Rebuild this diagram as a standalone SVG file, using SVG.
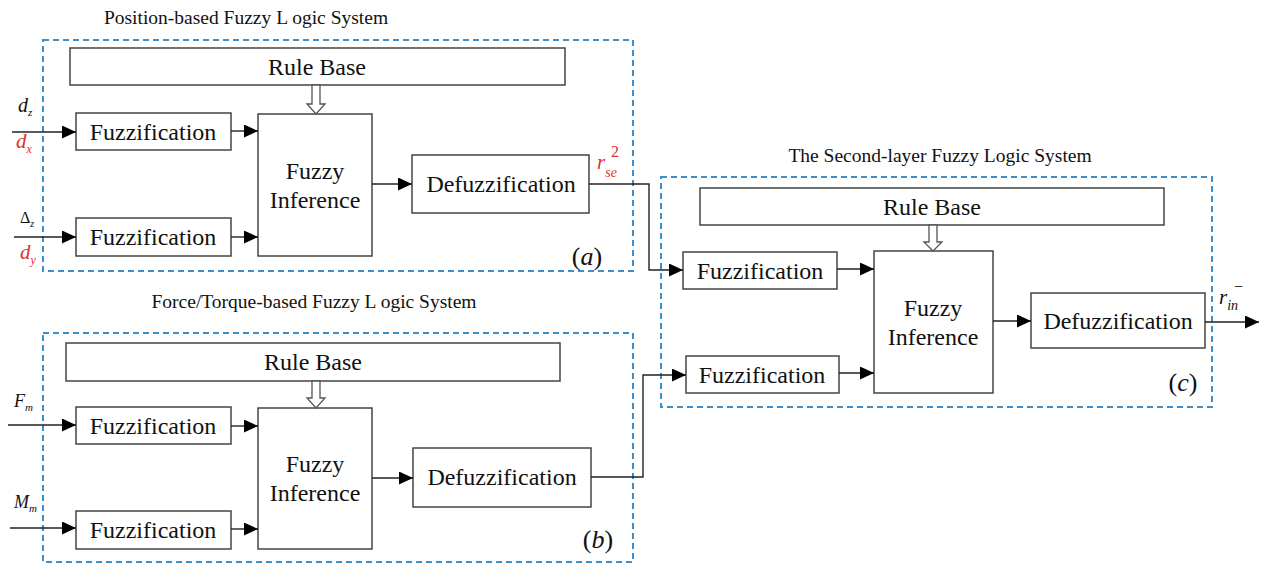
<svg xmlns="http://www.w3.org/2000/svg" width="1265" height="567" viewBox="0 0 1265 567">
<style>
text{font-family:"Liberation Serif","Times New Roman","DejaVu Serif","Noto Serif",serif}
.panel{fill:none;stroke:#3d8ec9;stroke-width:2;stroke-dasharray:6 4}
.box{fill:#fff;stroke:#444;stroke-width:1.5}
.bt{font-size:24px;fill:#111;text-anchor:middle}
.title{font-size:19.5px;fill:#111;text-anchor:middle}
.lbl{font-size:26px;fill:#111;text-anchor:middle}
.m{font-style:italic;fill:#111}
.up{font-style:normal;fill:#111}
.red{fill:#e03030}
.ln{fill:none;stroke:#222;stroke-width:1.4}
.hol{fill:#fff;stroke:#555;stroke-width:1.3}
</style>
<defs>
<marker id="ah" markerWidth="15" markerHeight="13" refX="14" refY="6.5" orient="auto" markerUnits="userSpaceOnUse">
<path d="M0,0 L14,6.5 L0,13 Z" fill="#000"/>
</marker>
</defs>

<g id="panel-a">
<rect class="panel" x="43" y="40" width="590" height="231"/>
<text class="title" x="246" y="24">Position-based Fuzzy L ogic System</text>
<text class="lbl" x="587" y="265">(<tspan font-style="italic">a</tspan>)</text>
</g>
<g id="panel-b">
<rect class="panel" x="43" y="333" width="590" height="229"/>
<text class="title" x="314" y="308">Force/Torque-based Fuzzy L ogic System</text>
<text class="lbl" x="598" y="548">(<tspan font-style="italic">b</tspan>)</text>
</g>
<g id="panel-c">
<rect class="panel" x="661" y="177" width="551" height="230"/>
<text class="title" x="940" y="162">The Second-layer Fuzzy Logic System</text>
<text class="lbl" x="1183" y="391">(<tspan font-style="italic">c</tspan>)</text>
</g>

<g id="a-rulebase"><rect class="box" x="70" y="48" width="495" height="37"/><text class="bt" x="317" y="75">Rule Base</text></g>
<g id="a-fuzz1"><rect class="box" x="76" y="113" width="155" height="37"/><text class="bt" x="153" y="140">Fuzzification</text></g>
<g id="a-fuzz2"><rect class="box" x="76" y="218" width="155" height="38"/><text class="bt" x="153" y="245">Fuzzification</text></g>
<g id="a-inference"><rect class="box" x="258" y="114" width="114" height="142"/><text class="bt" x="315" y="179">Fuzzy</text><text class="bt" x="315" y="208">Inference</text></g>
<g id="a-defuzz"><rect class="box" x="412" y="155" width="177" height="58"/><text class="bt" x="501" y="192">Defuzzification</text></g>

<g id="b-rulebase"><rect class="box" x="66" y="343" width="494" height="38"/><text class="bt" x="313" y="370">Rule Base</text></g>
<g id="b-fuzz1"><rect class="box" x="76" y="407" width="155" height="37"/><text class="bt" x="153" y="434">Fuzzification</text></g>
<g id="b-fuzz2"><rect class="box" x="76" y="511" width="155" height="38"/><text class="bt" x="153" y="538">Fuzzification</text></g>
<g id="b-inference"><rect class="box" x="258" y="408" width="114" height="141"/><text class="bt" x="315" y="472">Fuzzy</text><text class="bt" x="315" y="501">Inference</text></g>
<g id="b-defuzz"><rect class="box" x="413" y="448" width="178" height="59"/><text class="bt" x="502" y="485">Defuzzification</text></g>

<g id="c-rulebase"><rect class="box" x="700" y="188" width="464" height="37"/><text class="bt" x="932" y="215">Rule Base</text></g>
<g id="c-fuzz1"><rect class="box" x="683" y="252" width="154" height="37"/><text class="bt" x="760" y="279">Fuzzification</text></g>
<g id="c-fuzz2"><rect class="box" x="686" y="356" width="153" height="37"/><text class="bt" x="762" y="383">Fuzzification</text></g>
<g id="c-inference"><rect class="box" x="874" y="251" width="119" height="142"/><text class="bt" x="933" y="316">Fuzzy</text><text class="bt" x="933" y="345">Inference</text></g>
<g id="c-defuzz"><rect class="box" x="1031" y="293" width="174" height="55"/><text class="bt" x="1118" y="329">Defuzzification</text></g>

<g id="labels">
<text class="m" x="18" y="112" font-size="20">d<tspan font-size="11" dy="4">z</tspan></text>
<text class="m red" x="16" y="148" font-size="21">d<tspan font-size="12" dy="5">x</tspan></text>
<text class="up" x="20" y="223" font-size="16">Δ<tspan font-size="10" dy="4" font-style="italic">z</tspan></text>
<text class="m red" x="20" y="259" font-size="21">d<tspan font-size="12" dy="5">y</tspan></text>
<text class="m" x="14" y="407" font-size="18">F<tspan font-size="11" dy="4">m</tspan></text>
<text class="m" x="14" y="508" font-size="18">M<tspan font-size="11" dy="4">m</tspan></text>
<text class="m red" x="597" y="169" font-size="21">r<tspan font-size="14" dy="8">se</tspan></text>
<text class="up red" x="611" y="157" font-size="16">2</text>
<text class="m" x="1219" y="304" font-size="21">r<tspan font-size="14" dy="6">in</tspan></text>
<text class="up" x="1234" y="292" font-size="16">−</text>
</g>

<g id="connectors">
<line class="ln" x1="12" y1="132" x2="76" y2="132" marker-end="url(#ah)"/>
<line class="ln" x1="14" y1="237" x2="76" y2="237" marker-end="url(#ah)"/>
<line class="ln" x1="231" y1="131" x2="258" y2="131" marker-end="url(#ah)"/>
<line class="ln" x1="231" y1="237" x2="258" y2="237" marker-end="url(#ah)"/>
<line class="ln" x1="372" y1="184" x2="412" y2="184" marker-end="url(#ah)"/>
<polyline class="ln" points="589,184 649,184 649,270 683,270" marker-end="url(#ah)"/>

<line class="ln" x1="8" y1="425" x2="76" y2="425" marker-end="url(#ah)"/>
<line class="ln" x1="10" y1="528" x2="76" y2="528" marker-end="url(#ah)"/>
<line class="ln" x1="231" y1="426" x2="258" y2="426" marker-end="url(#ah)"/>
<line class="ln" x1="231" y1="529" x2="258" y2="529" marker-end="url(#ah)"/>
<line class="ln" x1="372" y1="478" x2="413" y2="478" marker-end="url(#ah)"/>
<polyline class="ln" points="591,477 643,477 643,375 686,375" marker-end="url(#ah)"/>

<line class="ln" x1="837" y1="269" x2="874" y2="269" marker-end="url(#ah)"/>
<line class="ln" x1="839" y1="373" x2="874" y2="373" marker-end="url(#ah)"/>
<line class="ln" x1="993" y1="321" x2="1031" y2="321" marker-end="url(#ah)"/>
<line class="ln" x1="1205" y1="322" x2="1259" y2="322" marker-end="url(#ah)"/>

<path class="hol" d="M312,85 L320,85 L320,104 L325,104 L316,114 L307,104 L312,104 Z"/>
<path class="hol" d="M312,381 L320,381 L320,398 L325,398 L316,408 L307,398 L312,398 Z"/>
<path class="hol" d="M929,225 L937,225 L937,242 L942,242 L933,251 L924,242 L929,242 Z"/>
</g>
</svg>
